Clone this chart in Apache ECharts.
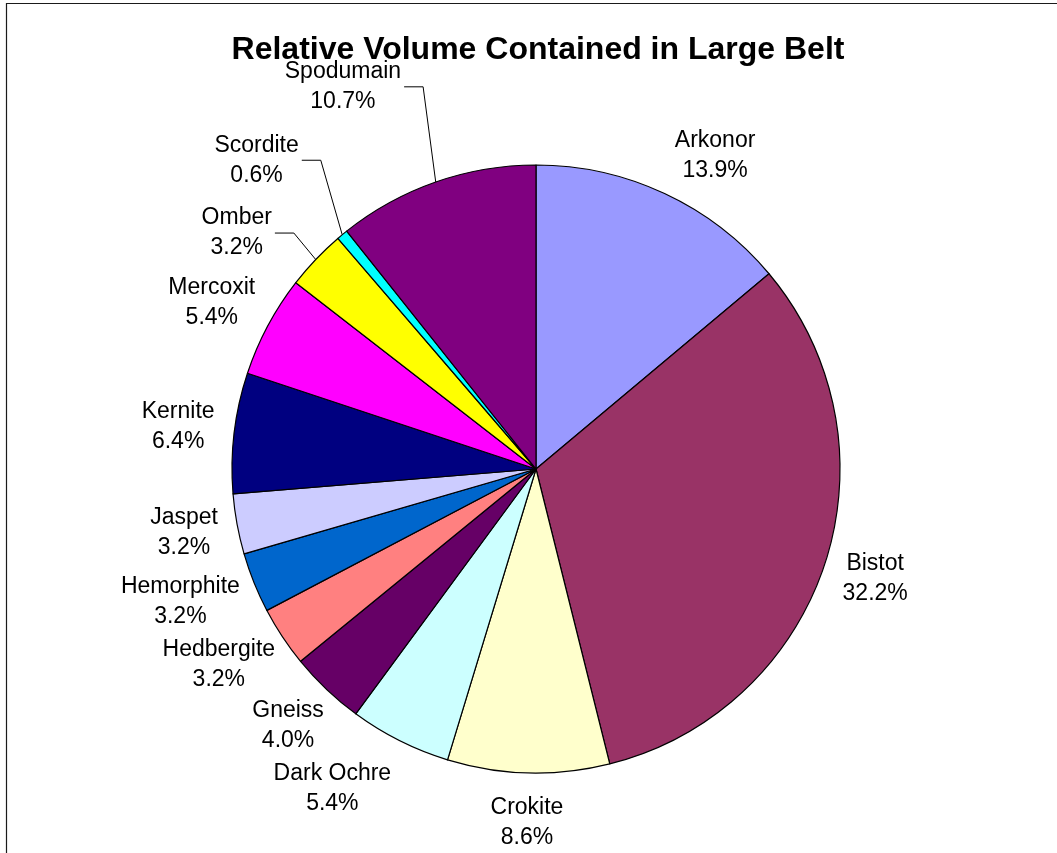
<!DOCTYPE html>
<html>
<head>
<meta charset="utf-8">
<title>Relative Volume Contained in Large Belt</title>
<script src="https://cdn.jsdelivr.net/npm/echarts@6/dist/echarts.min.js"></script>
<style>
  html, body { margin: 0; padding: 0; background: #fff; }
  #chart { width: 1057px; height: 853px; }
</style>
</head>
<body>
<div id="chart"></div>
<script>
// Ore types and their share (%) of the belt volume
const ores = ['Arkonor', 'Bistot', 'Crokite', 'Dark Ochre', 'Gneiss', 'Hedbergite',
  'Hemorphite', 'Jaspet', 'Kernite', 'Mercoxit', 'Omber', 'Scordite', 'Spodumain'];
const shares = [13.9, 32.2, 8.6, 5.4, 4.0, 3.2, 3.2, 3.2, 6.4, 5.4, 3.2, 0.6, 10.7];
const sliceColors = ['#9999FF', '#993366', '#FFFFCC', '#CCFFFF', '#660066', '#FF8080',
  '#0066CC', '#CCCCFF', '#000080', '#FF00FF', '#FFFF00', '#00FFFF', '#800080'];
const chartTitle = 'Relative Volume Contained in Large Belt';

// Pie geometry
const CX = 536, CY = 469, R = 304, LABEL_GAP = 20;

// Labels that are moved off their default spot to keep clear of neighbours
const labelNudge = {
  'Arkonor': [25, 7],
  'Dark Ochre': [-32, 3],
  'Omber': [-39, 8],
  'Scordite': [-46, -36],
  'Spodumain': [-67, -48]
};
// Labels connected to their slice with a leader line
const withLeader = ['Omber', 'Scordite', 'Spodumain'];

// Mid angle of every slice, clockwise from 12 o'clock
const total = shares.reduce((a, b) => a + b, 0);
const midAngles = [];
let acc = 0;
shares.forEach(v => {
  midAngles.push((acc + v / 2) / total * Math.PI * 2);
  acc += v;
});

const FONT = 'Liberation Sans, Arial, sans-serif';
const chart = echarts.init(document.getElementById('chart'), null, { renderer: 'canvas' });

const option = {
  backgroundColor: '#fff',
  animation: false,
  graphic: [{
    type: 'rect',
    silent: true,
    shape: { x: 6.5, y: 3.5, width: 1200, height: 1000 },
    style: { fill: 'none', stroke: '#1a1a1a', lineWidth: 1.2 }
  }, {
    type: 'text',
    silent: true,
    x: 538,
    y: 34,
    style: {
      text: chartTitle,
      align: 'center',
      verticalAlign: 'top',
      font: 'bold 32px ' + FONT,
      fill: '#000'
    }
  }],
  series: [{
    type: 'pie',
    center: [CX, CY],
    radius: R,
    startAngle: 90,
    clockwise: true,
    avoidLabelOverlap: false,
    emphasis: { disabled: true },
    itemStyle: { borderColor: '#000', borderWidth: 1.2 },
    label: {
      show: true,
      position: 'outside',
      formatter: p => p.name + '\n' + p.value.toFixed(1) + '%',
      fontFamily: FONT,
      fontSize: 23,
      lineHeight: 30,
      color: '#000'
    },
    labelLine: {
      show: false,
      smooth: false,
      lineStyle: { color: '#000', width: 1 }
    },
    labelLayout: function (p) {
      const i = p.dataIndex;
      const s = Math.sin(midAngles[i]);
      const c = Math.cos(midAngles[i]);
      const w = p.labelRect.width;
      const h = p.labelRect.height;
      const n = labelNudge[ores[i]] || [0, 0];
      const x = CX + (R + LABEL_GAP) * s + w / 2 * s + n[0];
      const y = CY - (R + LABEL_GAP) * c - h / 2 * c + n[1];
      const out = { x: x, y: y, align: 'center', verticalAlign: 'middle' };
      if (withLeader.indexOf(ores[i]) >= 0) {
        const end = x + w / 2 + 3;
        out.labelLinePoints = [[CX + R * s, CY - R * c], [end + 19, y], [end, y]];
      }
      return out;
    },
    data: ores.map((name, i) => ({
      name: name,
      value: shares[i],
      itemStyle: { color: sliceColors[i] },
      labelLine: { show: withLeader.indexOf(name) >= 0 }
    }))
  }]
};

chart.setOption(option);
</script>
</body>
</html>
